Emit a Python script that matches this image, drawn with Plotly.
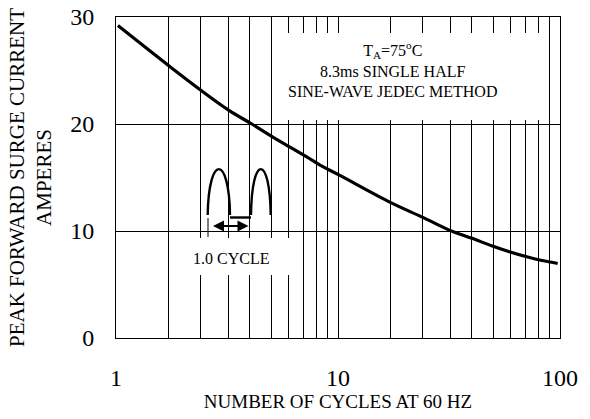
import plotly.graph_objects as go

# ---- data ----
cycles = [1.02, 1.74, 2.43, 3.24, 4.09, 5.11, 6.08, 7.23, 8.30, 10.1,
          17.3, 24.1, 32.2, 40.5, 49.6, 59.7, 70.8, 81.9, 91.7, 97.6]
current = [29.2, 25.4, 23.1, 21.25, 20.0, 18.76, 17.84, 16.92, 16.16, 15.24,
           12.65, 11.27, 10.03, 9.29, 8.59, 8.03, 7.59, 7.27, 7.08, 6.96]

x_major_ticks = [1, 10, 100]
x_major_labels = ["1", "10", "100"]
x_minor_grid = [1.72, 2.4, 3.2, 4, 5, 6, 7, 8, 9,
                17.3, 24, 32, 40, 50, 60, 70, 80, 90]
x_small_ticks = [1.72, 3.2, 17.3, 32]
y_ticks = [0, 10, 20, 30]

note_text = "T<sub>A</sub>=75<sup>o</sup>C<br>8.3ms SINGLE HALF<br>SINE-WAVE JEDEC METHOD"
cycle_text = "1.0 CYCLE"
x_title = "NUMBER OF CYCLES AT 60 HZ"
y_title = "PEAK FORWARD SURGE CURRENT<br>AMPERES"

FONT = "Liberation Serif, Times New Roman, serif"

fig = go.Figure()
fig.add_trace(go.Scatter(x=cycles, y=current, mode="lines",
                         line=dict(color="black", width=3.2, shape="spline", smoothing=1.0),
                         hoverinfo="skip", showlegend=False))

fig.update_layout(
    width=590, height=419,
    margin=dict(l=116, r=30, t=17, b=81, autoexpand=False),
    paper_bgcolor="white", plot_bgcolor="white",
    font=dict(family=FONT, color="black"),
    showlegend=False,
    xaxis=dict(type="log", range=[0, 2], automargin=False,
               tickmode="array", tickvals=x_major_ticks, ticktext=x_major_labels,
               tickfont=dict(size=24), ticks="", ticklabelstandoff=18,
               showgrid=True, gridcolor="black", gridwidth=1,
               minor=dict(tickmode="array", tickvals=x_minor_grid, showgrid=True,
                          gridcolor="black", gridwidth=1, ticks=""),
               showline=True, linecolor="black", linewidth=1, mirror=True,
               zeroline=False,
               title=dict(text=x_title, font=dict(size=19), standoff=1)),
    xaxis2=dict(type="log", range=[0, 2], overlaying="x", side="bottom",
                automargin=False,
                tickmode="array", tickvals=x_small_ticks, ticks="outside",
                ticklen=4, tickcolor="black", showticklabels=False,
                showgrid=False, showline=False, zeroline=False),
    yaxis=dict(range=[0, 30], tickmode="array", tickvals=y_ticks, automargin=False,
               tickfont=dict(size=24), ticks="", ticklabelstandoff=16,
               showgrid=True, gridcolor="black", gridwidth=1,
               showline=True, linecolor="black", linewidth=1, mirror=True,
               zeroline=False,
               title=dict(text=y_title, font=dict(size=21), standoff=12)),
)

# helper: pixel position in the 590x419 canvas -> paper fractions
L, R, T, B = 116, 560, 17, 338
def px(xp):
    return (xp - L) / (R - L)
def py(yp):
    return (B - yp) / (B - T)

# white masks that interrupt the grid behind the labels
fig.add_shape(type="rect", xref="paper", yref="paper",
              x0=px(286), x1=px(547), y0=py(120), y1=py(33),
              fillcolor="white", line=dict(width=0), layer="above")
fig.add_shape(type="rect", xref="paper", yref="paper",
              x0=px(192), x1=px(297), y0=py(275), y1=py(238),
              fillcolor="white", line=dict(width=0), layer="above")

# half-sine pictogram
def arch(x0, x1, yb, yt):
    h = yt - yb
    w = x1 - x0
    return (f"M {x0},{yb} C {x0 + 0.04*w},{yb + 1.33*h} "
            f"{x1 - 0.04*w},{yb + 1.33*h} {x1},{yb}")

yb, yt = py(215), py(169)
for a0, a1 in [(207.7, 230), (251, 270.7)]:
    fig.add_shape(type="path", xref="paper", yref="paper",
                  path=arch(px(a0), px(a1), yb, yt),
                  line=dict(color="black", width=2.4), layer="above")
fig.add_shape(type="line", xref="paper", yref="paper",
              x0=px(230), x1=px(251), y0=py(217.5), y1=py(217.5),
              line=dict(color="black", width=2.4), layer="above")
fig.add_shape(type="line", xref="paper", yref="paper",
              x0=px(208), x1=px(208), y0=py(218), y1=py(237),
              line=dict(color="black", width=1), layer="above")
# double-headed arrow for 1.0 cycle
fig.add_annotation(xref="paper", yref="paper", x=px(248.5), y=py(226),
                   ax=-37, ay=0, text="", showarrow=True,
                   arrowhead=2, startarrowhead=2, arrowside="end+start",
                   arrowsize=1.1, startarrowsize=1.1, arrowwidth=2, arrowcolor="black")

fig.add_annotation(xref="paper", yref="paper", x=px(392), y=py(69),
                   text=note_text, showarrow=False, xanchor="center", yanchor="middle",
                   font=dict(size=16, family=FONT, color="black"))
fig.add_annotation(xref="paper", yref="paper", x=px(231), y=py(258),
                   text=cycle_text, showarrow=False, xanchor="center", yanchor="middle",
                   font=dict(size=16, family=FONT, color="black"))

fig.write_html("out.html", config={"displayModeBar": False},
               post_script="document.body.style.margin='0';")
